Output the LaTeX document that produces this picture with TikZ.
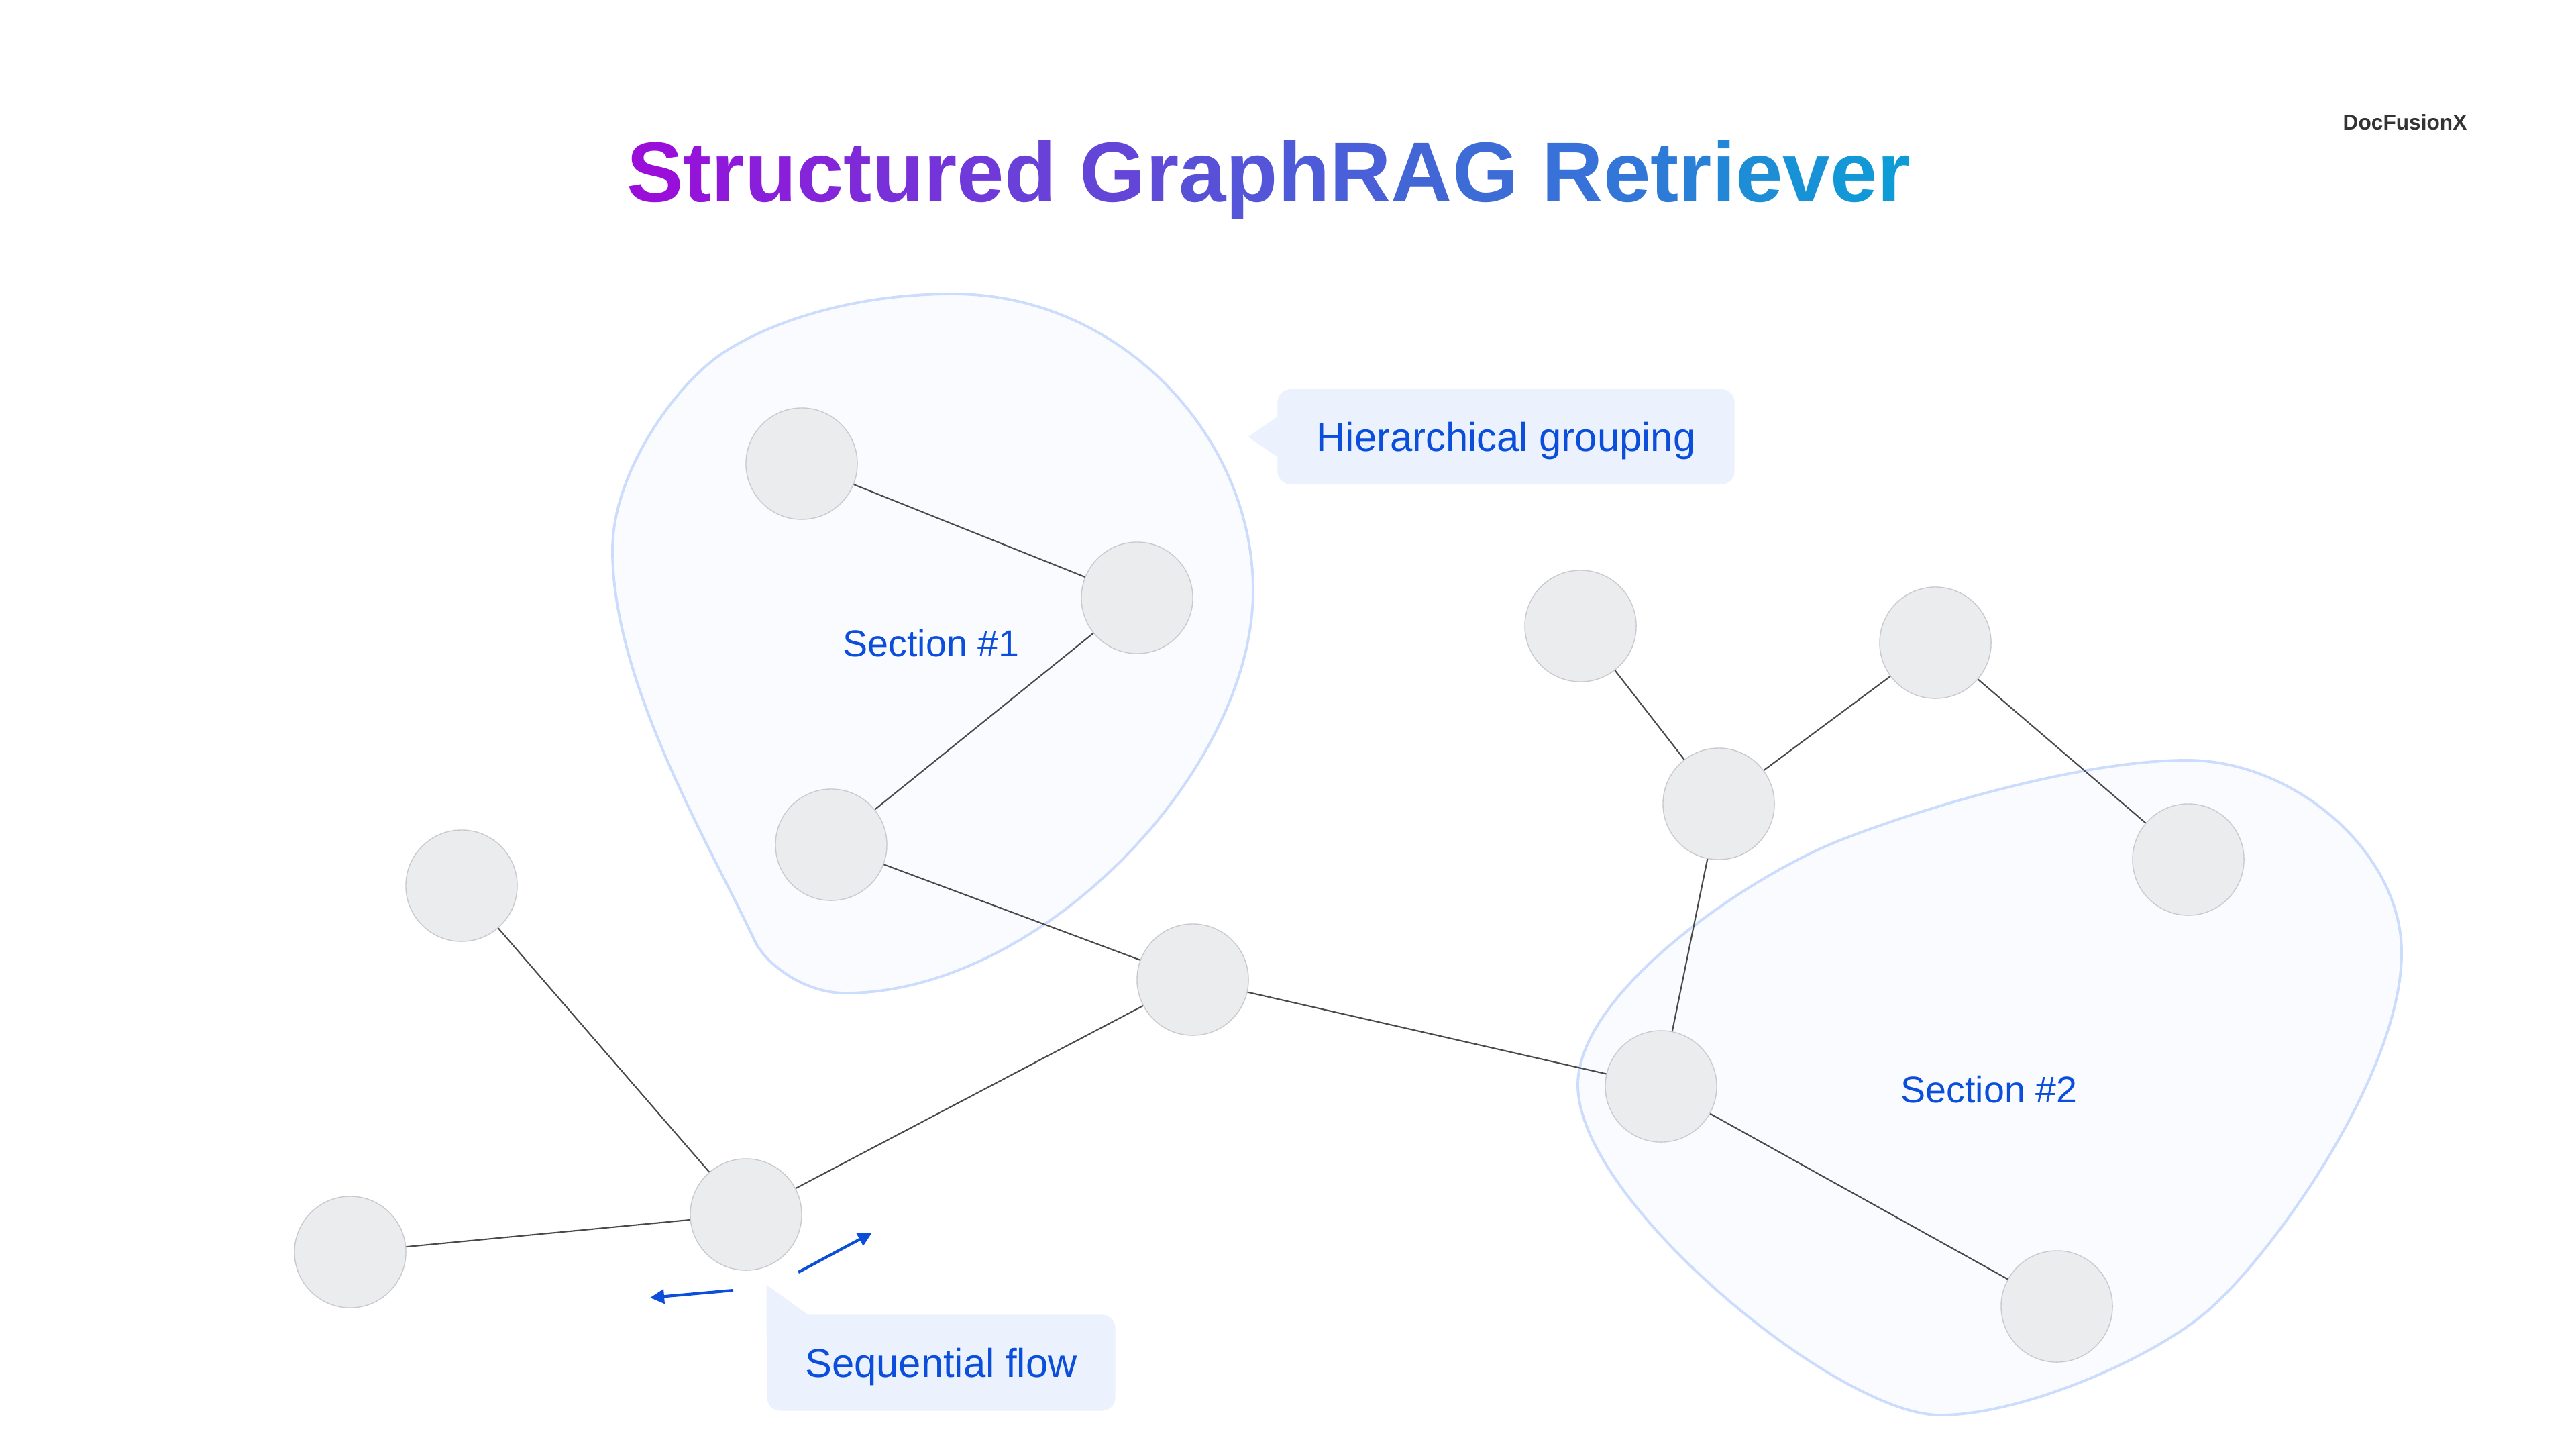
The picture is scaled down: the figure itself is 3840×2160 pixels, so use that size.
\documentclass[tikz,border=0pt]{standalone}
\usepackage{fontspec}
\setmainfont{Liberation Sans}
\usetikzlibrary{calc}
\usetikzlibrary{arrows.meta, positioning}

\definecolor{titlestart}{HTML}{9A0EDA}
\definecolor{titleend}{HTML}{0E9CD6}
\definecolor{accent}{HTML}{0B4EDB}
\definecolor{callfill}{HTML}{EBF2FE}
\definecolor{blobfill}{HTML}{F9FBFF}
\definecolor{blobline}{HTML}{CCDCFD}
\definecolor{nodefill}{HTML}{EBECEE}
\definecolor{nodeline}{HTML}{C9C9CF}
\definecolor{edgecol}{HTML}{4A4A4A}
\definecolor{logocol}{HTML}{333333}

% letter by letter colour ramp for the title
\makeatletter
\newcount\titlepos
\newcommand\gradword[1]{%
	\@tfor\gw@c:=#1\do{%
		\pgfmathtruncatemacro\gw@p{100-100*\titlepos/26}%
		\textcolor{titlestart!\gw@p!titleend}{\gw@c}%
		\global\advance\titlepos by 1\relax}}
\makeatother

\begin{document}
\begin{tikzpicture}[
			x=0.01cm, y=-0.01cm,
			vertex/.style={
					circle,
					draw=nodeline,
					fill=nodefill,
					line width=0.4pt,
					minimum size=1.66cm,
					inner sep=0pt
				},
			edge/.style={draw=edgecol, line width=0.6pt},
			blob/.style={fill=blobfill, draw=blobline, line width=1.1pt, line join=round},
			callout/.style={
					fill=callfill,
					rounded corners=0.2cm,
					text=accent,
					font=\fontsize{17}{20}\selectfont,
					text height=0.55cm, % keeps the caps centred in the box
					text depth=0.12cm,
					inner sep=0pt
				},
			section/.style={text=accent, font=\fontsize{15.8}{19}\selectfont},
			flow/.style={draw=accent, line width=1.2pt, -{Triangle[length=6pt, width=6pt]}}
		]
		\useasboundingbox[fill=white] (0,0) rectangle (3840,2160);

		% groups
		\path[blob] (1420,438)
		.. controls (1670,438) and (1868,650) .. (1868,880)
		.. controls (1868,1150) and (1550,1480) .. (1260,1480)
		.. controls (1200,1480) and (1142,1438) .. (1125,1402)
		.. controls (1062,1266) and (913,1020) .. (913,820)
		.. controls (913,700) and (1012,568) .. (1079,525)
		.. controls (1163,471) and (1290,438) .. (1420,438) -- cycle;

		\path[blob] (3260,1133)
		.. controls (3420,1133) and (3580,1270) .. (3580,1420)
		.. controls (3580,1600) and (3387,1872) .. (3288,1956)
		.. controls (3204,2027) and (3012,2109) .. (2892,2109)
		.. controls (2740,2109) and (2352,1790) .. (2352,1617)
		.. controls (2352,1480) and (2601,1309) .. (2741,1253)
		.. controls (2881,1198) and (3110,1133) .. (3260,1133) -- cycle;

		\node[section] (sec1) at (1388,959) {Section \#1};
		\node[section] (sec2) at (2965,1624) {Section \#2};

		% graph
		\node[vertex] (n0) at (1195,691) {};
		\node[vertex] (n1) at (1695,891) {};
		\node[vertex] (n2) at (1239,1259) {};
		\node[vertex] (n3) at (1778,1460) {};
		\node[vertex] (n4) at (688,1320) {};
		\node[vertex] (n5) at (1112,1810) {};
		\node[vertex] (n6) at (522,1866) {};
		\node[vertex] (n7) at (2356,933) {};
		\node[vertex] (n8) at (2885,958) {};
		\node[vertex] (n9) at (2562,1198) {};
		\node[vertex] (n10) at (3262,1281) {};
		\node[vertex] (n11) at (2476,1619) {};
		\node[vertex] (n12) at (3066,1947) {};

		\foreach \a/\b in {n0/n1, n1/n2, n2/n3, n3/n5, n4/n5, n6/n5,
				n3/n11, n7/n9, n9/n8, n8/n10, n9/n11, n11/n12}
		\draw[edge] (\a) -- (\b);

		% flow arrows
		\coordinate (fwd0) at (1190,1896);
		\coordinate (fwd1) at (1300,1837);
		\coordinate (back0) at (1093,1923);
		\coordinate (back1) at (969,1934);
		\draw[flow] (fwd0) -- (fwd1);
		\draw[flow] (back0) -- (back1);

		% callouts
		\node[callout, minimum width=6.81cm, minimum height=1.42cm] (hier) at (2245,651) {Hierarchical grouping};
		\fill[callfill] ($(hier.west)+(2,-31)$) -- ($(hier.west)+(-43,0)$) -- ($(hier.west)+(2,31)$) -- cycle;

		\node[callout, minimum width=5.19cm, minimum height=1.43cm] (seq) at (1403,2031) {Sequential flow};
		\fill[callfill] ($(seq.north west)+(0,-44)$) -- ($(seq.north west)+(61,0)$)
		-- ($(seq.north west)+(61,30)$) -- ($(seq.north west)+(0,30)$) -- cycle;

		% title and logo
		\node[anchor=base, inner sep=0pt, font=\bfseries\fontsize{36}{40}\selectfont] (title) at (1891,300)
		{\gradword{Structured}\ \gradword{GraphRAG}\ \gradword{Retriever}};
		\node[text=logocol, font=\bfseries\fontsize{9}{11}\selectfont] (logo) at (3585,182) {DocFusionX};
	\end{tikzpicture}
\end{document}
